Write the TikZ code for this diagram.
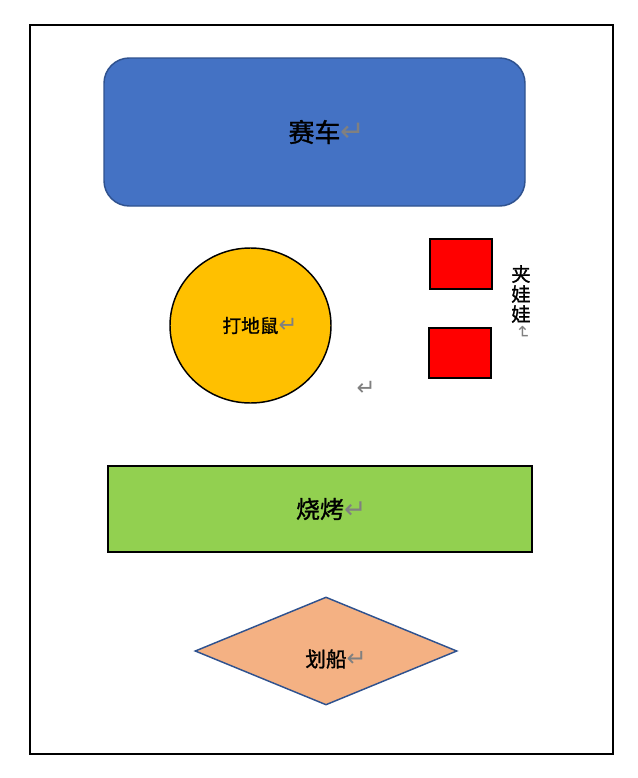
\documentclass[tikz,border=0pt]{standalone}
\usepackage{fontspec}
\newfontfamily\cjk{Noto Sans CJK SC}[FakeBold=1.2]
\newfontfamily\symfont{DejaVu Sans}
\usetikzlibrary{shapes.geometric}

\definecolor{raceblue}{HTML}{4472C4}
\definecolor{edgeblue}{HTML}{2F528F}
\definecolor{moleyellow}{HTML}{FFC000}
\definecolor{bbqgreen}{HTML}{92D050}
\definecolor{boatpeach}{HTML}{F4B183}
\newcommand{\retmark}[1][12pt]{{\symfont\color{gray}\fontsize{#1}{#1}\selectfont ↵}}

\begin{document}
\begin{tikzpicture}[
        x=0.75pt, y=-0.75pt,
        lbl/.style={font=\cjk, text=black, inner sep=0pt},
        gamebox/.style={draw=black, line width=1.1pt, inner sep=0pt}
    ]
        \useasboundingbox (0,0) rectangle (637,778);
        \draw[line width=1.4pt] (30,25) rectangle (613,754);

        \node[gamebox, draw=edgeblue, fill=raceblue, rounded corners=19pt,
              minimum width=421*0.75pt, minimum height=148*0.75pt] (race) at (314.5,132) {};
        \node[lbl, font=\cjk\fontsize{19.5pt}{20pt}\selectfont] (racetxt) at (race) {赛车\rlap{\retmark[22pt]}};

        \node[gamebox, ellipse, fill=moleyellow,
              minimum width=161*0.75pt, minimum height=155*0.75pt] (mole) at (250.5,325.5) {};
        \node[lbl, font=\cjk\fontsize{14pt}{15pt}\selectfont] (moletxt) at (mole) {打地鼠\rlap{\retmark[17pt]}};

        \node[gamebox, fill=red, minimum width=62*0.75pt, minimum height=50*0.75pt] (clawa) at (461,264) {};
        \node[gamebox, fill=red, minimum width=62*0.75pt, minimum height=50*0.75pt] (clawb) at (460,353) {};
        \node[lbl, align=center, font=\cjk\fontsize{14.5pt}{15pt}\selectfont] (clawtxt) at (521,294)
            {夹\\娃\\娃};
        \node[lbl, rotate=-90] (clawret) at (523,333) {\retmark[13pt]};
        \node[lbl] (strayret) at (366,388) {\retmark[17pt]};

        \node[gamebox, fill=bbqgreen, minimum width=424*0.75pt, minimum height=86*0.75pt] (bbq) at (320,509) {};
        \node[lbl, font=\cjk\fontsize{18pt}{19pt}\selectfont] (bbqtxt) at (bbq) {烧烤\rlap{\retmark[20pt]}};

        \node[gamebox, diamond, draw=edgeblue, line width=1.1pt, fill=boatpeach, aspect=2.43,
              minimum width=262*0.75pt, minimum height=108*0.75pt] (boat) at (326,651) {};
        \node[lbl, font=\cjk\fontsize{15.5pt}{16pt}\selectfont] (boattxt) at ([yshift=-6pt]boat) {划船\rlap{\retmark[18pt]}};
    \end{tikzpicture}
\end{document}
